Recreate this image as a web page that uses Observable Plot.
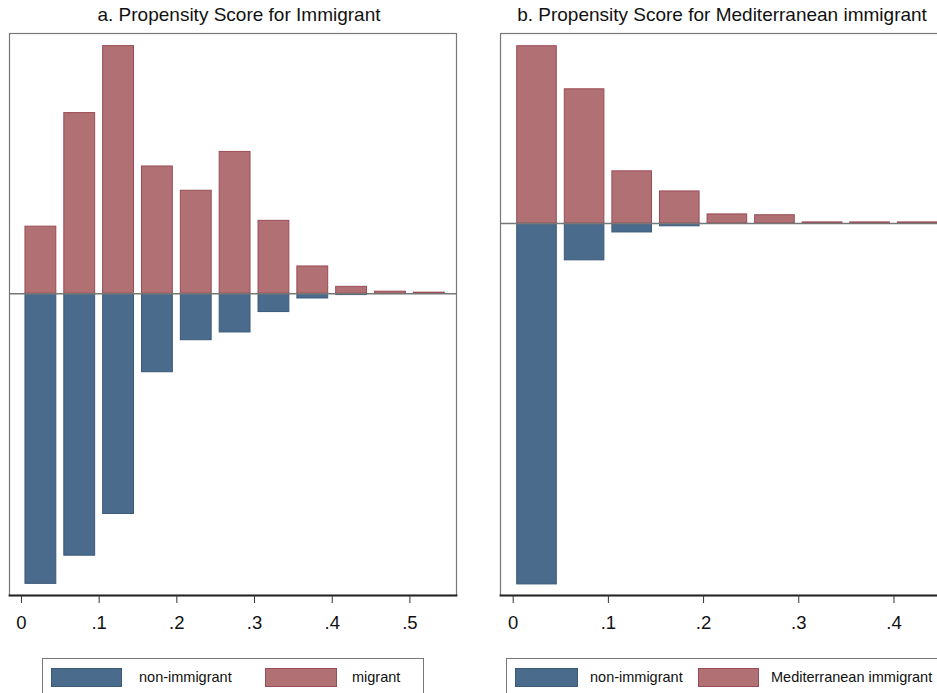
<!DOCTYPE html>
<html>
<head>
<meta charset="utf-8">
<script src="https://cdn.jsdelivr.net/npm/d3@7"></script>
<script src="https://cdn.jsdelivr.net/npm/@observablehq/plot@0.6"></script>
<style>
  html, body { margin: 0; padding: 0; background: #fff; }
  #wrap { position: relative; width: 937px; height: 693px; overflow: hidden; font-family: "Liberation Sans", Arial, sans-serif; }
  .panel { position: absolute; top: 0; }
  .panel svg { max-width: none !important; }
  .title { position: absolute; top: 4px; font-size: 19px; color: #111; white-space: nowrap; transform: translateX(-50%); }
  .legend { position: absolute; top: 658px; height: 60px; border: 1px solid #777; box-sizing: border-box; background: #fff; }
  .sw { position: absolute; top: 9px; height: 19px; box-sizing: border-box; }
  .lt { position: absolute; top: 10px; font-size: 14.5px; color: #111; white-space: nowrap; }
</style>
</head>
<body>
<div id="wrap"></div>
<script>
// Panel a: Propensity Score for Immigrant (bin lower edges, width .05), values in %
const binsA = [0, 0.05, 0.10, 0.15, 0.20, 0.25, 0.30, 0.35, 0.40, 0.45, 0.50];
const nonImmA = [29.9, 27.0, 22.7, 8.1, 4.8, 4.0, 1.9, 0.5, 0.15, 0.05, 0.02];
const migrantA = [6.9, 18.6, 25.5, 13.1, 10.6, 14.6, 7.5, 2.8, 0.7, 0.2, 0.1];
const ticksA = [0, 0.1, 0.2, 0.3, 0.4, 0.5];

// Panel b: Propensity Score for Mediterranean immigrant
const binsB = [0, 0.05, 0.10, 0.15, 0.20, 0.25, 0.30, 0.35, 0.40];
const nonImmB = [88.0, 9.0, 2.2, 0.7, 0.05, 0.03, 0.02, 0.01, 0.01];
const medB = [43.2, 32.7, 12.7, 7.8, 2.2, 2.0, 0.25, 0.25, 0.25];
const ticksB = [0, 0.1, 0.2, 0.3, 0.4];

const binWidth = 0.05;
const blueFill = "#4a6b8b", blueStroke = "#3b5a7a";
const redFill = "#b07074", redStroke = "#9a4c55";

const fmt = d => d === 0 ? "0" : String(d).replace(/^0/, "");

function panel({bins, neg, pos, ticks, xDomain, yDomain, width, marginLeft, marginRight}) {
  const negData = bins.map((b, i) => ({x1: b, x2: b + binWidth, v: -neg[i]}));
  const posData = bins.map((b, i) => ({x1: b, x2: b + binWidth, v: pos[i]}));
  const svg = Plot.plot({
    width, height: 640,
    marginTop: 33, marginBottom: 45, marginLeft, marginRight,
    style: {fontFamily: "'Liberation Sans', Arial, sans-serif", fontSize: "18.5px", color: "#111", background: "transparent"},
    x: {domain: xDomain},
    y: {domain: yDomain, axis: null},
    marks: [
      Plot.rect(negData, {x1: "x1", x2: "x2", y1: 0, y2: "v", insetLeft: 4, insetRight: 4, fill: blueFill, stroke: blueStroke, strokeWidth: 1}),
      Plot.rect(posData, {x1: "x1", x2: "x2", y1: 0, y2: "v", insetLeft: 4, insetRight: 4, fill: redFill, stroke: redStroke, strokeWidth: 1}),
      Plot.ruleY([0], {stroke: "#777", strokeWidth: 1.5}),
      Plot.frame({stroke: "#777", strokeWidth: 1.2}),
      Plot.frame({anchor: "bottom", stroke: "#222", strokeWidth: 1.8}),
      Plot.axisX({ticks, tickFormat: fmt, tickSize: 8, tickPadding: 12, stroke: "#333", fontSize: 18.5, label: null})
    ]
  });
  d3.select(svg).selectAll("text").style("font-size", "18.5px").style("fill", "#111");
  return svg;
}

const wrap = document.getElementById("wrap");

function addPanel(left, width, svg) {
  const d = document.createElement("div");
  d.className = "panel";
  d.style.left = left + "px";
  d.style.width = width + "px";
  d.appendChild(svg);
  wrap.appendChild(d);
}

addPanel(0, 470, panel({bins: binsA, neg: nonImmA, pos: migrantA, ticks: ticksA,
  xDomain: [-0.0154, 0.56], yDomain: [-31.1, 26.8], width: 470, marginLeft: 9, marginRight: 14}));
addPanel(470, 480, panel({bins: binsB, neg: nonImmB, pos: medB, ticks: ticksB,
  xDomain: [-0.01334, 0.4531], yDomain: [-90.7, 46.3], width: 480, marginLeft: 30, marginRight: 6}));

function addTitle(cx, text) {
  const t = document.createElement("div");
  t.className = "title";
  t.style.left = cx + "px";
  t.textContent = text;
  wrap.appendChild(t);
}
addTitle(239, "a. Propensity Score for Immigrant");
addTitle(722, "b. Propensity Score for Mediterranean immigrant");

function addLegend(left, width, items) {
  const box = document.createElement("div");
  box.className = "legend";
  box.style.left = left + "px";
  box.style.width = width + "px";
  for (const it of items) {
    const s = document.createElement("div");
    s.className = "sw";
    s.style.left = it.sx + "px";
    s.style.width = it.sw + "px";
    s.style.background = it.fill;
    s.style.border = "1px solid " + it.stroke;
    box.appendChild(s);
    const l = document.createElement("div");
    l.className = "lt";
    l.style.left = it.tx + "px";
    l.textContent = it.label;
    box.appendChild(l);
  }
  wrap.appendChild(box);
}
addLegend(42, 382, [
  {sx: 8, sw: 71, tx: 96, fill: blueFill, stroke: blueStroke, label: "non-immigrant"},
  {sx: 222, sw: 72, tx: 309, fill: redFill, stroke: redStroke, label: "migrant"}
]);
addLegend(506, 460, [
  {sx: 8, sw: 63, tx: 83, fill: blueFill, stroke: blueStroke, label: "non-immigrant"},
  {sx: 191, sw: 61, tx: 264, fill: redFill, stroke: redStroke, label: "Mediterranean immigrant"}
]);
</script>
</body>
</html>
